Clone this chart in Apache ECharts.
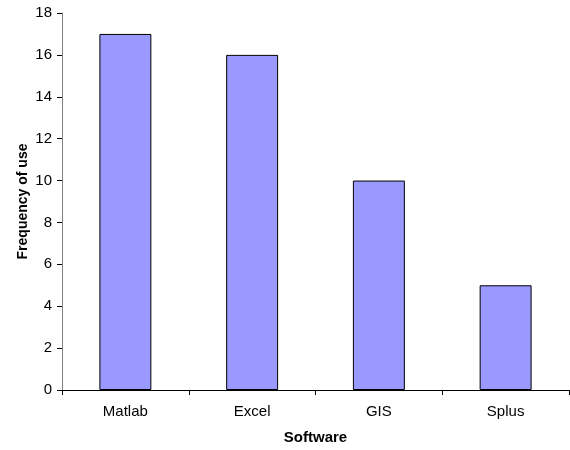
<!DOCTYPE html>
<html><head><meta charset="utf-8">
<script src="https://cdn.jsdelivr.net/npm/echarts@6/dist/echarts.min.js"></script>
<style>html,body{margin:0;padding:0;background:#fff}#c{width:570px;height:450px}</style>
</head><body><div id="c"></div>
<script>
const categories = ["Matlab", "Excel", "GIS", "Splus"];
const values = [17, 16, 10, 5];
const yTicks = [0, 2, 4, 6, 8, 10, 12, 14, 16, 18];

const chart = echarts.init(document.getElementById('c'), null, {renderer: 'canvas'});
const font = '"Liberation Sans", Arial, sans-serif';
chart.setOption({
  animation: false,
  grid: {left: 62, right: 1, top: 13, bottom: 58, containLabel: false},
  xAxis: {
    type: 'category', data: categories,
    name: 'Software', nameLocation: 'middle', nameGap: 40, nameMoveOverlap: false,
    nameTextStyle: {fontFamily: font, fontWeight: 'bold', fontSize: 15, color: '#000'},
    axisLine: {lineStyle: {color: '#000', width: 1}},
    axisTick: {show: true, length: 5, alignWithLabel: false, lineStyle: {color: '#000'}},
    axisLabel: {fontFamily: font, fontSize: 15, color: '#000', margin: 14},
    splitLine: {show: false}
  },
  yAxis: {
    type: 'value', min: yTicks[0], max: yTicks[yTicks.length-1], interval: 2,
    name: 'Frequency of use', nameLocation: 'middle', nameGap: 32, nameRotate: 90, nameMoveOverlap: false,
    nameTextStyle: {fontFamily: font, fontWeight: 'bold', fontSize: 14, color: '#000'},
    axisLine: {show: true, lineStyle: {color: '#808080', width: 1}},
    axisTick: {show: true, length: 5, lineStyle: {color: '#000'}},
    axisLabel: {fontFamily: font, fontSize: 15, color: '#000', margin: 10},
    splitLine: {show: false}
  },
  series: [{
    type: 'bar', data: values, barWidth: '41%',
    itemStyle: {color: '#9999FF', borderColor: '#000', borderWidth: 1}
  }]
});
</script></body></html>
